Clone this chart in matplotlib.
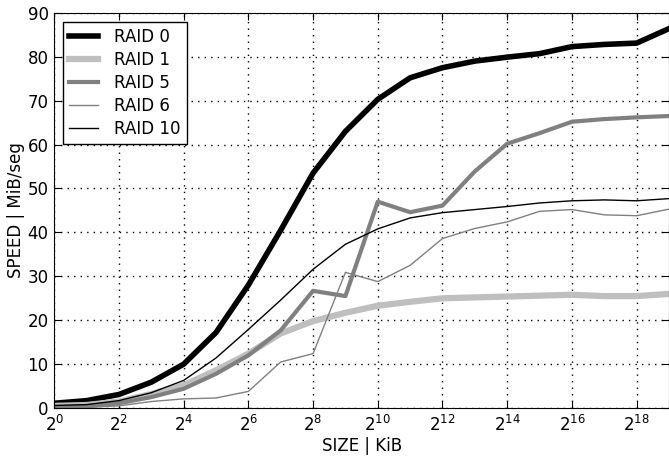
import numpy as np
import matplotlib
matplotlib.use("Agg")
import matplotlib.pyplot as plt

plt.rcParams['font.family'] = 'DejaVu Sans'
plt.rcParams['mathtext.fontset'] = 'dejavusans'
plt.rcParams['font.size'] = 12

exponents = np.arange(0, 20)
sizes = 2.0 ** exponents

raid0 = [1.1, 1.7, 3.1, 5.9, 10.0, 17.2, 28.0, 40.5, 53.5, 63.0,
         70.3, 75.2, 77.5, 79.0, 79.9, 80.7, 82.3, 82.8, 83.1, 86.4]
raid1 = [0.5, 0.7, 1.5, 3.2, 5.2, 8.6, 12.4, 17.0, 19.8, 21.7,
         23.3, 24.2, 25.0, 25.2, 25.4, 25.6, 25.8, 25.5, 25.5, 26.0]
raid5 = [0.2, 0.4, 1.1, 2.5, 4.4, 7.8, 12.0, 17.7, 26.7, 25.5,
         47.0, 44.6, 46.1, 53.9, 60.2, 62.6, 65.2, 65.8, 66.2, 66.5]
raid6 = [0.1, 0.2, 0.5, 1.5, 2.1, 2.3, 3.8, 10.5, 12.4, 30.9,
         28.8, 32.5, 38.6, 40.9, 42.4, 44.8, 45.2, 44.0, 43.8, 45.3]
raid10 = [0.6, 0.8, 1.7, 3.5, 6.3, 11.4, 17.9, 24.6, 31.6, 37.3,
          40.8, 43.3, 44.5, 45.2, 45.9, 46.7, 47.2, 47.4, 47.2, 47.7]

xtick_exp = np.arange(0, 19, 2)
yticks = np.arange(0, 91, 10)

fig = plt.figure(figsize=(6.69, 4.57), dpi=100)
ax = fig.add_axes([0.081, 0.107, 0.919, 0.865])

ax.plot(sizes, raid0, color='black', lw=4, label='RAID 0')
ax.plot(sizes, raid1, color='0.75', lw=4.5, label='RAID 1')
ax.plot(sizes, raid5, color='0.5', lw=3, label='RAID 5')
ax.plot(sizes, raid6, color='0.5', lw=1, label='RAID 6')
ax.plot(sizes, raid10, color='black', lw=1, label='RAID 10')

ax.set_xscale('log', base=2)
ax.set_xlim(sizes[0], sizes[-1])
ax.set_ylim(0, 90)
ax.set_xticks(2.0 ** xtick_exp)
ax.set_xticklabels([f'$2^{{{k}}}$' for k in xtick_exp])
ax.xaxis.set_minor_locator(matplotlib.ticker.NullLocator())
ax.set_yticks(yticks)
ax.tick_params(direction='in', top=True, right=True, length=5, labelsize=12)
ax.tick_params(axis='x', pad=5)
ax.tick_params(axis='y', pad=4)

ax.grid(True, color='black', linestyle=(0, (1, 3.7)), linewidth=1)
ax.set_xlabel('SIZE | KiB', fontsize=12, labelpad=1)
ax.set_ylabel('SPEED | MiB/seg', fontsize=12, labelpad=2)

leg = ax.legend(loc='upper left', fancybox=False, framealpha=1, edgecolor='black',
                fontsize=12, handlelength=1.7, handletextpad=1.0,
                borderpad=0.35, labelspacing=0.3, borderaxespad=0.55)
leg.get_frame().set_linewidth(1)

fig.savefig('out.png', dpi=100)
